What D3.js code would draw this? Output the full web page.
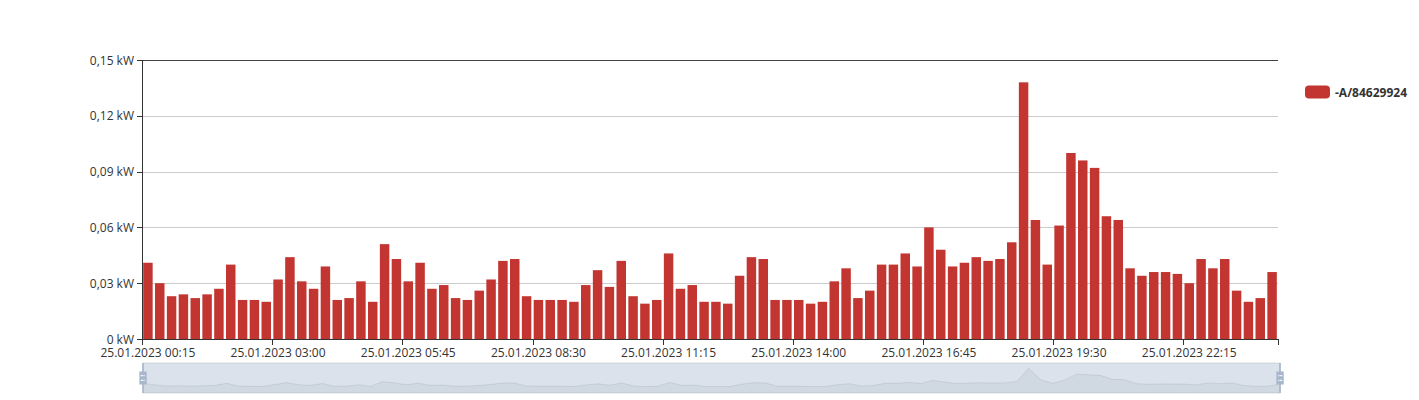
<!DOCTYPE html>
<html>
<head>
<meta charset="utf-8">
<script src="https://cdn.jsdelivr.net/npm/d3@7"></script>
<style>
  html, body { margin: 0; padding: 0; background: #fff; }
  svg { display: block; font-family: "Open Sans", sans-serif; }
</style>
</head>
<body>
<svg id="chart" width="1419" height="400"></svg>
<script>
// ---- data ----
const datePrefix = "25.01.2023";
const times = [
  "00:15","00:30","00:45","01:00","01:15","01:30","01:45","02:00",
  "02:15","02:30","02:45","03:00","03:15","03:30","03:45","04:00",
  "04:15","04:30","04:45","05:00","05:15","05:30","05:45","06:00",
  "06:15","06:30","06:45","07:00","07:15","07:30","07:45","08:00",
  "08:15","08:30","08:45","09:00","09:15","09:30","09:45","10:00",
  "10:15","10:30","10:45","11:00","11:15","11:30","11:45","12:00",
  "12:15","12:30","12:45","13:00","13:15","13:30","13:45","14:00",
  "14:15","14:30","14:45","15:00","15:15","15:30","15:45","16:00",
  "16:15","16:30","16:45","17:00","17:15","17:30","17:45","18:00",
  "18:15","18:30","18:45","19:00","19:15","19:30","19:45","20:00",
  "20:15","20:30","20:45","21:00","21:15","21:30","21:45","22:00",
  "22:15","22:30","22:45","23:00","23:15","23:30","23:45","24:00"
];
const categories = times.map(t => datePrefix + " " + t);
const values = [
  0.041,0.030,0.023,0.024,0.022,0.024,0.027,0.040,
  0.021,0.021,0.020,0.032,0.044,0.031,0.027,0.039,
  0.021,0.022,0.031,0.020,0.051,0.043,0.031,0.041,
  0.027,0.029,0.022,0.021,0.026,0.032,0.042,0.043,
  0.023,0.021,0.021,0.021,0.020,0.029,0.037,0.028,
  0.042,0.023,0.019,0.021,0.046,0.027,0.029,0.020,
  0.020,0.019,0.034,0.044,0.043,0.021,0.021,0.021,
  0.019,0.020,0.031,0.038,0.022,0.026,0.040,0.040,
  0.046,0.039,0.060,0.048,0.039,0.041,0.044,0.042,
  0.043,0.052,0.138,0.064,0.040,0.061,0.100,0.096,
  0.092,0.066,0.064,0.038,0.034,0.036,0.036,0.035,
  0.030,0.043,0.038,0.043,0.026,0.020,0.022,0.036
];
const seriesName = "-A/84629924";
const yTicks = [0, 0.03, 0.06, 0.09, 0.12, 0.15];
const labelInterval = 11;

// ---- layout ----
const svg = d3.select("#chart");
const L = 142, R = 1278, T = 60, B = 339;
const barColor = "#c23531";
const textColor = "#333";

const x = d3.scaleBand().domain(d3.range(categories.length)).range([L, R])
  .paddingInner(0.2).paddingOuter(0.1);
const step = (R - L) / categories.length;
const y = d3.scaleLinear().domain([0, 0.15]).range([B, T]);
const fmtY = v => (v === 0 ? "0" : d3.format(".2f")(v).replace(".", ",")) + " kW";

// grid lines
svg.append("g").selectAll("line").data(yTicks.filter(v => v > 0 && v < 0.15)).join("line")
  .attr("x1", L).attr("x2", R)
  .attr("y1", d => Math.round(y(d)) + 0.5).attr("y2", d => Math.round(y(d)) + 0.5)
  .attr("stroke", "#ccc").attr("stroke-width", 1);

// top line
svg.append("line").attr("x1", L).attr("x2", R)
  .attr("y1", y(0.15) + 0.5).attr("y2", y(0.15) + 0.5)
  .attr("stroke", "#444").attr("stroke-width", 1.2);

// bars
svg.append("g").selectAll("rect").data(values).join("rect")
  .attr("x", (d, i) => x(i))
  .attr("width", x.bandwidth())
  .attr("y", d => y(d))
  .attr("height", d => y(0) - y(d))
  .attr("fill", barColor);

// y axis
const yAxis = svg.append("g");
yAxis.append("line").attr("x1", L + 0.5).attr("x2", L + 0.5).attr("y1", T).attr("y2", B)
  .attr("stroke", "#333");
yAxis.selectAll("line.tick").data(yTicks).join("line").attr("class", "tick")
  .attr("x1", L - 5).attr("x2", L)
  .attr("y1", d => Math.round(y(d)) + 0.5).attr("y2", d => Math.round(y(d)) + 0.5)
  .attr("stroke", "#333");
yAxis.selectAll("text").data(yTicks).join("text")
  .attr("x", L - 8).attr("y", d => y(d))
  .attr("text-anchor", "end").attr("dominant-baseline", "central")
  .attr("font-size", 12).attr("fill", textColor)
  .text(fmtY);

// x axis
const xAxis = svg.append("g");
xAxis.append("line").attr("x1", L).attr("x2", R).attr("y1", B + 0.5).attr("y2", B + 0.5)
  .attr("stroke", "#333");
const tickIdx = d3.range(0, categories.length, labelInterval);
const tickPos = tickIdx.map(i => L + i * step).concat([R]);
xAxis.selectAll("line.tick").data(tickPos).join("line").attr("class", "tick")
  .attr("x1", d => Math.round(d) + 0.5).attr("x2", d => Math.round(d) + 0.5)
  .attr("y1", B).attr("y2", B + 6)
  .attr("stroke", "#333");
xAxis.selectAll("text").data(tickIdx).join("text")
  .attr("x", i => x(i) + x.bandwidth() / 2).attr("y", B + 18)
  .attr("text-anchor", "middle")
  .attr("font-size", 12).attr("fill", textColor)
  .text(i => categories[i]);

// legend
const lg = svg.append("g");
lg.append("rect").attr("x", 1305).attr("y", 85.5).attr("width", 25).attr("height", 13)
  .attr("rx", 4).attr("fill", barColor);
lg.append("text").attr("x", 1335).attr("y", 92).attr("dominant-baseline", "central")
  .attr("font-size", 12).attr("font-weight", "bold").attr("fill", textColor)
  .text(seriesName);

// data zoom slider
const SL = 143, SR = 1280, ST = 363, SB = 393;
const sz = svg.append("g");
sz.append("rect").attr("x", SL).attr("y", ST).attr("width", SR - SL).attr("height", SB - ST)
  .attr("fill", "none").attr("stroke", "#ddd");
const sx = d3.scaleLinear().domain([0, values.length - 1]).range([SL, SR]);
const sy = d3.scaleLinear().domain([0, d3.max(values)]).range([389.5, 368.3]);
const area = d3.area().x((d, i) => sx(i)).y0(SB).y1(d => sy(d));
const line = d3.line().x((d, i) => sx(i)).y(d => sy(d));
sz.append("path").datum(values).attr("d", area).attr("fill", "rgba(47,69,84,0.09)");
sz.append("path").datum(values).attr("d", line).attr("fill", "none")
  .attr("stroke", "#2f4554").attr("stroke-opacity", 0.3).attr("stroke-width", 0.5);
sz.append("rect").attr("x", SL).attr("y", ST).attr("width", SR - SL).attr("height", SB - ST)
  .attr("fill", "rgba(167,183,204,0.4)");
const handlePath = "M8.2,13.6V3.9H6.3v9.7H3.1v14.9h3.3v9.7h1.8v-9.7h3.3V13.6H8.2z M9.7,24.4H4.8v-1.4h4.9V24.4z M9.7,19.1H4.8v-1.4h4.9V19.1z";
const hs = (SB - ST) / (38.2 - 3.9);
[SL, SR].forEach(hx => {
  sz.append("path").attr("d", handlePath).attr("fill", "#a7b7cc").attr("fill-rule", "evenodd")
    .attr("transform", `translate(${hx - 7.25 * hs},${ST - 3.9 * hs}) scale(${hs})`);
});
</script>
</body>
</html>
